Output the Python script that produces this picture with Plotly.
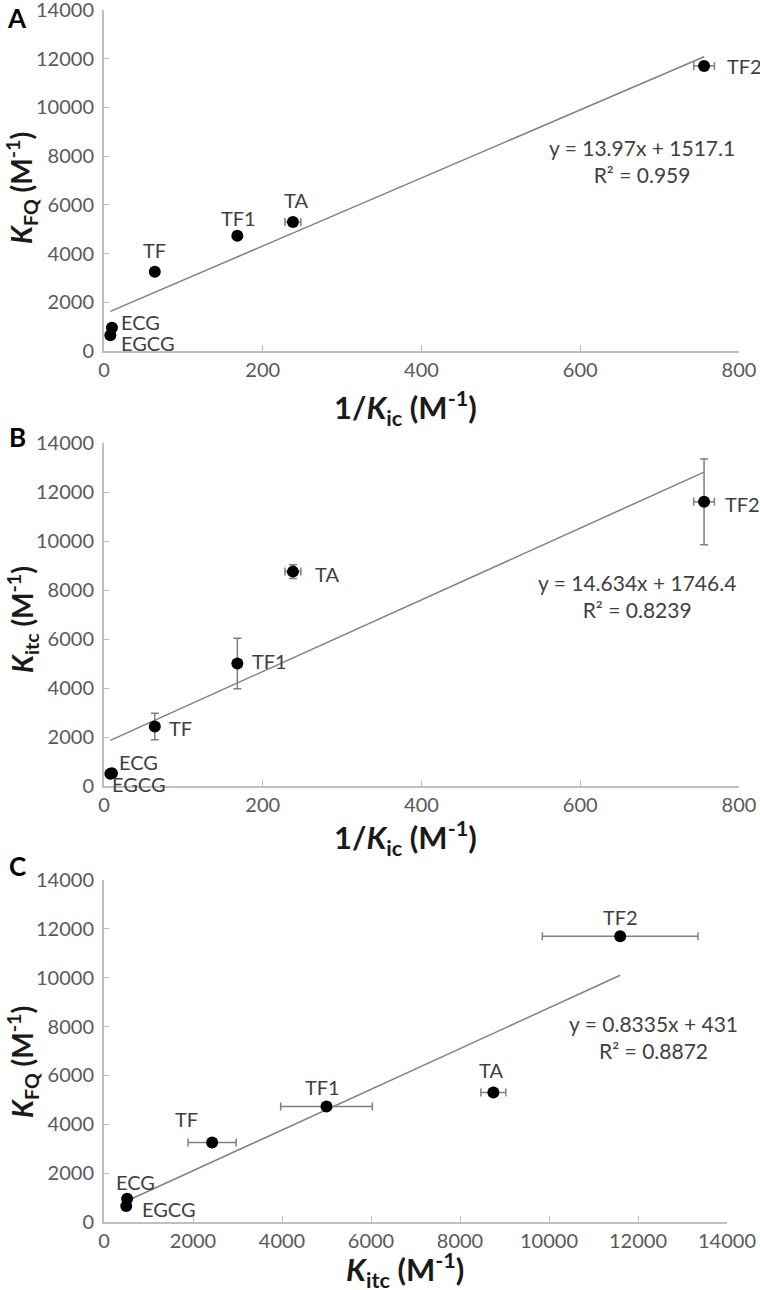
import plotly.graph_objects as go
from plotly.subplots import make_subplots

# Data
compounds = ["ECG", "EGCG", "TF", "TF1", "TA", "TF2"]
inv_kic = [10, 8, 64, 168, 238, 756]          # 1/Kic (M-1)
inv_kic_err = [2, 2, 3, 4, 10, 13]
k_fq = [950, 650, 3250, 4730, 5300, 11700]      # KFQ (M-1)
k_fq_err = [100, 80, 120, 120, 150, 150]
k_itc = [520, 500, 2430, 5000, 8750, 11600]     # Kitc (M-1)
k_itc_err = [60, 50, 540, 1030, 280, 1750]

fit_a = [13.97, 1517.1]
fit_b = [14.634, 1746.4]
fit_c = [0.8335, 431]
eq_a = ["y = 13.97x + 1517.1", "R² = 0.959"]
eq_b = ["y = 14.634x + 1746.4", "R² = 0.8239"]
eq_c = ["y = 0.8335x + 431", "R² = 0.8872"]

FONT = "Lato"
TICK_GREY = "#595959"
AXIS_GREY = "#bfbfbf"
ERR_GREY = "#7f7f7f"

W, H = 760, 1290


def px_x(p):
    return p / W


def px_y(p):
    return 1 - p / H


fig = make_subplots(rows=3, cols=1)

panels = [
    dict(x=inv_kic, xe=inv_kic_err, y=k_fq, ye=k_fq_err, fit=fit_a, row=1),
    dict(x=inv_kic, xe=inv_kic_err, y=k_itc, ye=k_itc_err, fit=fit_b, row=2),
    dict(x=k_itc, xe=k_itc_err, y=k_fq, ye=k_fq_err, fit=fit_c, row=3),
]

for p in panels:
    x0, x1 = min(p["x"]), max(p["x"])
    m, b = p["fit"]
    fig.add_trace(
        go.Scatter(x=[x0, x1], y=[m * x0 + b, m * x1 + b], mode="lines",
                   line=dict(color="#808080", width=1.5), hoverinfo="skip"),
        row=p["row"], col=1,
    )
    fig.add_trace(
        go.Scatter(
            x=p["x"], y=p["y"], mode="markers", text=compounds,
            marker=dict(color="black", size=12),
            error_x=dict(type="data", array=p["xe"], color=ERR_GREY, thickness=1.5, width=4),
            error_y=dict(type="data", array=p["ye"], color=ERR_GREY, thickness=1.5, width=4),
        ),
        row=p["row"], col=1,
    )

# axis domains in pixels of the 760x1290 page
doms = [
    ((104, 739), (351, 10)),
    ((104, 739), (786, 443)),
    ((104, 727), (1222, 880)),
]
xranges = [[0, 800], [0, 800], [0, 14000]]
xdticks = [200, 200, 2000]
for i, ((xa, xb), (yb, yt)) in enumerate(doms, start=1):
    fig.update_xaxes(
        domain=[px_x(xa), px_x(xb)], range=xranges[i - 1], dtick=xdticks[i - 1], tickformat="d",
        showgrid=False, zeroline=False, showline=True, linecolor=AXIS_GREY, linewidth=2,
        ticks="inside", ticklen=6, tickcolor=AXIS_GREY, tickwidth=1, automargin=False,
        ticklabeloverflow="allow",
        tickfont=dict(family=FONT, size=20, color=TICK_GREY),
        row=i, col=1,
    )
    fig.update_yaxes(
        domain=[px_y(yb), px_y(yt)], range=[0, 14000], dtick=2000, tickformat="d",
        showgrid=False, zeroline=False, showline=True, linecolor=AXIS_GREY, linewidth=2,
        ticks="inside", ticklen=5, tickcolor=AXIS_GREY, tickwidth=1, ticklabelstandoff=4,
        automargin=False, ticklabeloverflow="allow",
        tickfont=dict(family=FONT, size=20, color=TICK_GREY),
        row=i, col=1,
    )

annotations = []

# point labels: (xanchor, dx, dy) offsets per panel
label_offsets = [
    [("left", 7, 6), ("left", 9, -8), ("center", 0, 22), ("center", 1, 18), ("center", 3, 22), ("left", 21, 0)],
    [("left", 5, 11), ("left", 0, -10), ("left", 12, -2), ("left", 13, 3), ("left", 20, -2), ("left", 19, -2)],
    [("center", 8, 17), ("left", 14, -3), ("center", -26, 24), ("center", -4, 19), ("center", -2, 23), ("center", 0, 19)],
]
for k, p in enumerate(panels):
    suffix = "" if k == 0 else str(k + 1)
    for name, xv, yv, (anc, dx, dy) in zip(compounds, p["x"], p["y"], label_offsets[k]):
        annotations.append(dict(
            x=xv, y=yv, xref="x" + suffix, yref="y" + suffix, text=name, showarrow=False,
            xanchor=anc, yanchor="middle", xshift=dx, yshift=dy,
            font=dict(family=FONT, size=20, color="#404040"),
        ))

# regression equations
for eq, (cx, cy) in zip([eq_a, eq_b, eq_c], [(642, 161), (637, 596), (653, 1037)]):
    annotations.append(dict(
        x=px_x(cx), y=px_y(cy), xref="paper", yref="paper", text="<br>".join(eq),
        showarrow=False, xanchor="center", yanchor="middle", align="center",
        font=dict(family=FONT, size=21, color="#404040"),
    ))

# panel letters
for letter, cy in zip(["A", "B", "C"], [18, 437, 866]):
    annotations.append(dict(
        x=px_x(17), y=px_y(cy), xref="paper", yref="paper", text="<b>" + letter + "</b>",
        showarrow=False, xanchor="center", yanchor="middle",
        font=dict(family=FONT, size=26, color="black"),
    ))

# axis titles
x_title_font = dict(family=FONT, size=31, color="#1a1a1a")
y_title_font = dict(family=FONT, size=28, color="#1a1a1a")
x_titles = [
    ("<b>1/<i>K</i><sub>ic</sub> (M<sup>-1</sup>)</b>", 408),
    ("<b>1/<i>K</i><sub>ic</sub> (M<sup>-1</sup>)</b>", 838),
    ("<b><i>K</i><sub>itc</sub> (M<sup>-1</sup>)</b>", 1270),
]
for txt, cy in x_titles:
    annotations.append(dict(
        x=px_x(405), y=px_y(cy), xref="paper", yref="paper", text=txt,
        showarrow=False, xanchor="center", yanchor="middle", font=x_title_font,
    ))
y_titles = [
    ("<b><i>K</i><sub>FQ</sub> (M<sup>-1</sup>)</b>", 188),
    ("<b><i>K</i><sub>itc</sub> (M<sup>-1</sup>)</b>", 620),
    ("<b><i>K</i><sub>FQ</sub> (M<sup>-1</sup>)</b>", 1062),
]
for txt, cy in y_titles:
    annotations.append(dict(
        x=px_x(22), y=px_y(cy), xref="paper", yref="paper", text=txt, textangle=-90,
        showarrow=False, xanchor="center", yanchor="middle", font=y_title_font,
    ))

fig.update_layout(
    width=W, height=H,
    margin=dict(l=0, r=0, t=0, b=0, autoexpand=False),
    paper_bgcolor="white", plot_bgcolor="white",
    showlegend=False,
    annotations=annotations,
    font=dict(family=FONT),
)

# drop the default body margin so the 760x1290 figure fills the window exactly
fig.write_html("out.html", config={"displayModeBar": False},
               post_script="document.body.style.margin='0';")
